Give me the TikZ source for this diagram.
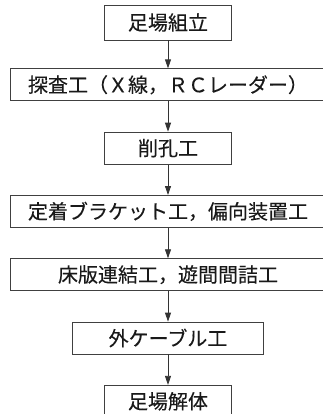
\documentclass[tikz,border=0pt]{standalone}
\usepackage{fontspec}
\newfontfamily\jpfont[FakeBold=0.2]{Noto Sans CJK JP}
\usetikzlibrary{arrows.meta, positioning}
\tikzstyle{block} = [draw=black!75, line width=0.8pt, rectangle, minimum height=32pt, inner sep=0pt, font=\jpfont\fontsize{20}{22}\selectfont, text=black!90]
\tikzstyle{short} = [block, minimum width=127pt]
\tikzstyle{middle} = [block, minimum width=191pt]
\tikzstyle{wide} = [block, minimum width=316pt]
\tikzstyle{path} = [-{Triangle[length=9pt, width=6pt]}, draw=black!80, line width=0.8pt]

\begin{document}
\begin{tikzpicture}[node distance=30.5pt, x=1pt, y=1pt]
    \useasboundingbox (0,0) rectangle (323,-414);
    \node (scaffold) [short, minimum height=35pt] at (168,-22.5) {足場組立};
    \node (survey) [wide, below=28pt of scaffold] {探査工（Ｘ線，ＲＣレーダー）};
    \node (drilling) [short, below=of survey] {削孔工};
    \node (bracket) [wide, below=of drilling] {定着ブラケット工，偏向装置工};
    \node (slab) [wide, below=of bracket] {床版連結工，遊間間詰工};
    \node (cable) [middle, below=of slab] {外ケーブル工};
    \node (removal) [short, below=of cable] {足場解体};

    % Arrows.
    \foreach \a/\b in {scaffold/survey, survey/drilling, drilling/bracket, bracket/slab, slab/cable, cable/removal} {%
        \draw [path] (\a) -- (\b);
    }
\end{tikzpicture}
\end{document}
